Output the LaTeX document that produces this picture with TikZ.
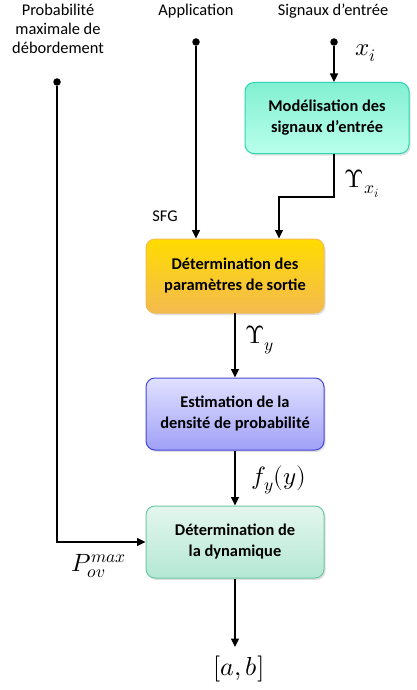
\documentclass[tikz,border=0pt]{standalone}
\usepackage{fontspec}
\setmainfont{Carlito}
\usepackage{unicode-math}
\setmathfont{Latin Modern Math}
\usetikzlibrary{arrows.meta,shadows}
\begin{document}
\begin{tikzpicture}[x=1pt,y=-1pt,
  flowbox/.style={rounded corners=9pt, line width=1pt, minimum width=178pt,
    align=center, font=\fontsize{16.4}{21}\selectfont\bfseries,
    drop shadow={shadow xshift=1.5pt, shadow yshift=-2pt, opacity=0.25}},
  toplabel/.style={align=center, font=\fontsize{16.4}{19}\selectfont},
  mathlabel/.style={font=\fontsize{25}{28}\selectfont},
  wire/.style={line width=1.1pt},
  flow/.style={wire, -{Triangle[length=8.5pt,width=8pt]}},
  dot/.style={circle, fill=black, inner sep=0pt, minimum size=7.5pt}]
\useasboundingbox (0,0) rectangle (417,690);

% input captions
\node[toplabel] (lprob) at (58,29) {Probabilité\\maximale de\\débordement};
\node[toplabel] (lapp)  at (196,11) {Application};
\node[toplabel] (lsig)  at (333,11) {Signaux d’entrée};

% input terminals
\node[dot] (dprob) at (57,82) {};
\node[dot] (dapp)  at (196,42) {};
\node[dot] (dsig)  at (334,42) {};

% processing blocks
\node[flowbox, draw={rgb,255:red,40;green,215;blue,175},
  top color={rgb,255:red,130;green,240;blue,210},
  bottom color={rgb,255:red,185;green,255;blue,235},
  minimum width=164pt, minimum height=71pt] (model) at (327,118)
  {Modélisation des\\signaux d’entrée};
\node[flowbox, draw={rgb,255:red,240;green,190;blue,80},
  top color={rgb,255:red,255;green,220;blue,0},
  bottom color={rgb,255:red,244;green,186;blue,80},
  minimum height=74pt] (param) at (235,276)
  {Détermination des\\paramètres de sortie};
\node[flowbox, draw={rgb,255:red,70;green,70;blue,215},
  top color={rgb,255:red,225;green,225;blue,255},
  bottom color={rgb,255:red,160;green,160;blue,248},
  minimum height=72pt] (estim) at (235,414)
  {Estimation de la\\densité de probabilité};
\node[flowbox, draw={rgb,255:red,110;green,200;blue,165},
  top color={rgb,255:red,228;green,246;blue,238},
  bottom color={rgb,255:red,180;green,232;blue,212},
  minimum height=72pt] (dyn) at (235,542)
  {Détermination de\\la dynamique};

% output terminal
\node[mathlabel, font=\fontsize{26}{28}\selectfont] (out) at (239,669) {$[a,b]$};
\coordinate (outtip) at (235,647);

% connectors
\draw[flow] (dsig) -- (model.north -| dsig);
\draw[flow] (dapp) -- (param.north -| dapp);
\coordinate (bend1) at (334,197);
\coordinate (bend2) at (279,197);
\draw[flow] (model.south -| bend1) -- (bend1) -- (bend2) -- (param.north -| bend2);
\draw[flow] (param) ++(0,37) -- (estim.north);
\draw[flow] (estim.south) -- (dyn.north);
\coordinate (bend3) at (57,542);
\draw[flow] (dprob) -- (bend3) -- (dyn.west);
\draw[flow] (dyn.south) -- (outtip);

% signal labels
\node[mathlabel] (xi)   at (366,53)  {$x_i$};
\node[mathlabel] (ux)   at (362,184) {$\Upsilon_{x_i}$};
\node[toplabel]  (sfg)  at (165,216) {SFG};
\node[mathlabel] (uy)   at (260,340) {$\Upsilon_y$};
\node[mathlabel] (fy)   at (279,480) {$f_y(y)$};
\node[mathlabel] (pov)  at (99,566)  {$P_{ov}^{max}$};
\end{tikzpicture}
\end{document}
